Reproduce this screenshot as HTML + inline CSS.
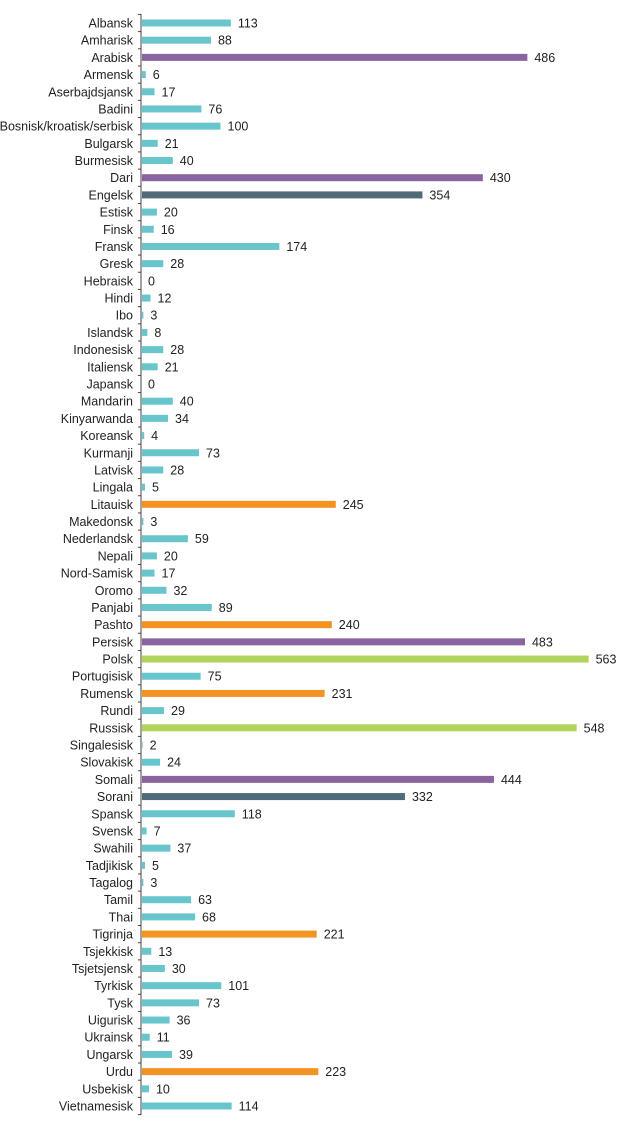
<!DOCTYPE html>
<html><head><meta charset="utf-8"><style>
body{margin:0;background:#fff;width:620px;height:1132px;overflow:hidden}
svg{display:block;font-family:"Liberation Sans",Arial,sans-serif}
</style></head><body>
<svg id="chart" width="620" height="1132" viewBox="0 0 620 1132"></svg>
<script>
const categories=["Albansk","Amharisk","Arabisk","Armensk","Aserbajdsjansk","Badini","Bosnisk/kroatisk/serbisk","Bulgarsk","Burmesisk","Dari","Engelsk","Estisk","Finsk","Fransk","Gresk","Hebraisk","Hindi","Ibo","Islandsk","Indonesisk","Italiensk","Japansk","Mandarin","Kinyarwanda","Koreansk","Kurmanji","Latvisk","Lingala","Litauisk","Makedonsk","Nederlandsk","Nepali","Nord-Samisk","Oromo","Panjabi","Pashto","Persisk","Polsk","Portugisisk","Rumensk","Rundi","Russisk","Singalesisk","Slovakisk","Somali","Sorani","Spansk","Svensk","Swahili","Tadjikisk","Tagalog","Tamil","Thai","Tigrinja","Tsjekkisk","Tsjetsjensk","Tyrkisk","Tysk","Uigurisk","Ukrainsk","Ungarsk","Urdu","Usbekisk","Vietnamesisk"];
const values=[113,88,486,6,17,76,100,21,40,430,354,20,16,174,28,0,12,3,8,28,21,0,40,34,4,73,28,5,245,3,59,20,17,32,89,240,483,563,75,231,29,548,2,24,444,332,118,7,37,5,3,63,68,221,13,30,101,73,36,11,39,223,10,114];
const groups=["t","t","p","t","t","t","t","t","t","p","s","t","t","t","t","t","t","t","t","t","t","t","t","t","t","t","t","t","o","t","t","t","t","t","t","o","p","g","t","o","t","g","t","t","p","s","t","t","t","t","t","t","t","o","t","t","t","t","t","t","t","o","t","t"];
const colors={t:"#68c5cc",p:"#8a64a0",o:"#f39322",g:"#b0d45c",s:"#506a78"};
const svg=document.getElementById('chart');
const NS="http://www.w3.org/2000/svg";
const x0=141, kx=0.795, y0=23, step=(1106-23)/63, bh=7;
const xs=v=>x0+v*kx, ys=i=>y0+i*step;
function mk(t,a){const e=document.createElementNS(NS,t);for(const k in a)e.setAttribute(k,a[k]);svg.appendChild(e);return e;}
const ax=mk('line',{x1:x0,y1:14,x2:x0,y2:1115,stroke:'#444','stroke-width':1});


for(let i=0;i<=categories.length;i++){
  const yy=ys(i)-step/2;
  const tk=mk('line',{x1:x0-3,y1:yy,x2:x0,y2:yy,stroke:'#444','stroke-width':1});
  
  
}
categories.forEach((c,i)=>{
  const y=ys(i);
  const l=mk('text',{x:x0-8,y:y+4.5,'text-anchor':'end','font-size':12.5,fill:'#222'});
  l.textContent=c;
  
  
  const b=mk('rect',{x:x0+1,y:y-bh/2,width:Math.max(0,xs(values[i])-x0-1),height:bh,fill:colors[groups[i]]});
  
  
  const v=mk('text',{x:xs(values[i])+7,y:y+4.5,'font-size':12.5,fill:'#222'});
  v.textContent=values[i];
  
  
});
</script>
</body></html>
